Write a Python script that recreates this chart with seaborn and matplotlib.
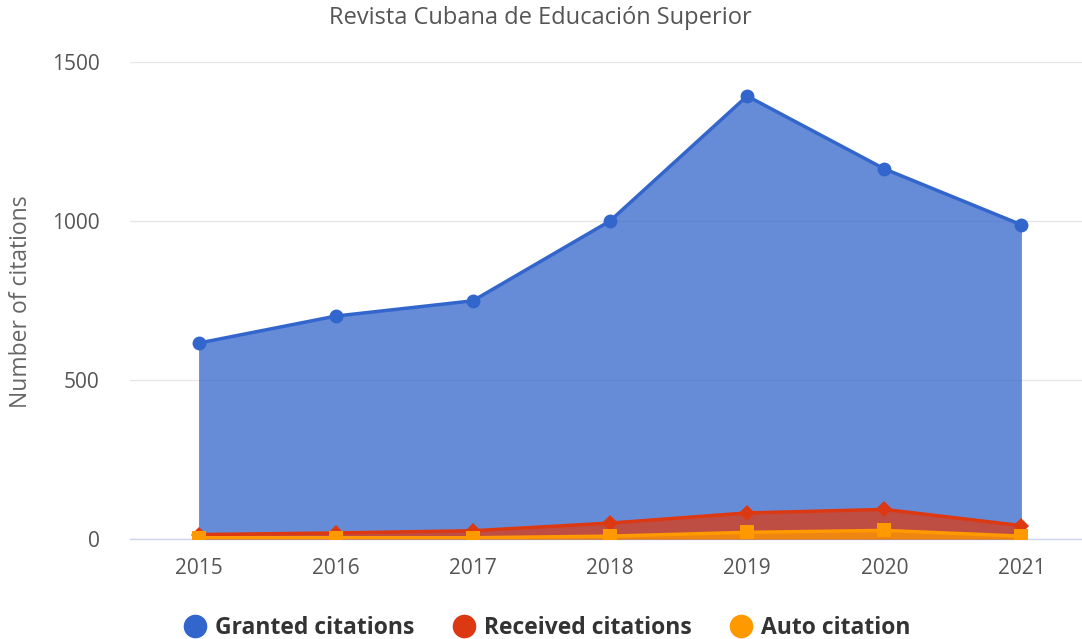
import matplotlib
matplotlib.use("Agg")
import matplotlib.pyplot as plt
import seaborn as sns
import pandas as pd
from matplotlib.lines import Line2D

years = ["2015", "2016", "2017", "2018", "2019", "2020", "2021"]
granted = [616, 701, 749, 1000, 1393, 1164, 988]
received = [14, 19, 26, 50, 82, 93, 42]
auto = [4, 4, 4, 9, 21, 27, 9]

series_names = ["Granted citations", "Received citations", "Auto citation"]
colors = ["#3366cc", "#dc3912", "#ff9900"]
markers = ["o", "D", "s"]

sns.set_theme(style="white")
plt.rcParams['font.family'] = ['Open Sans', 'DejaVu Sans']

fig = plt.figure(figsize=(10.82, 6.39), dpi=100)
ax = fig.add_axes([130/1082, 1-539/639, 960/1082, 477/639])

x = list(range(len(years)))
df = pd.DataFrame({"x": x * 3,
                   "value": granted + received + auto,
                   "series": [series_names[0]] * 7 + [series_names[1]] * 7 + [series_names[2]] * 7})

for name, vals, c, m in zip(series_names, [granted, received, auto], colors, markers):
    ax.fill_between(x, 0, vals, color=c, alpha=0.75, linewidth=0, zorder=2)
    sub = df[df.series == name]
    sns.lineplot(data=sub, x="x", y="value", ax=ax, color=c, linewidth=2.5,
                 marker=m, markersize=10 if m != "D" else 8, markeredgewidth=0,
                 legend=False, zorder=3)

ax.set_xlim(-0.5, 6.5)
ax.set_ylim(0, 1500)
ax.set_yticks([0, 500, 1000, 1500])
ax.set_xticks(x)
ax.set_xticklabels(years)
ax.set_xticks([i - 0.5 for i in range(8)], minor=True)
ax.tick_params(axis="x", which="minor", length=10, color="#ccd6eb", width=1, direction="out")
ax.tick_params(axis="x", which="major", length=0, pad=14, labelsize=15, labelcolor="#555555")
ax.tick_params(axis="y", length=0, pad=22, labelsize=15, labelcolor="#555555")
ax.grid(axis="y", color="#e6e6e6", linewidth=1)
ax.set_axisbelow(True)
for s in ["top", "right", "left"]:
    ax.spines[s].set_visible(False)
ax.spines["bottom"].set_color("#ccd6eb")
ax.spines["bottom"].set_linewidth(1)
ax.spines["bottom"].set_zorder(1)
ax.set_xlabel("")
ax.set_ylabel("")
fig.text(21/1082, 1-302/639, "Number of citations", rotation=90, ha="center", va="center",
         fontsize=16.5, color="#666666")
fig.text(540/1082, 1-18/639, "Revista Cubana de Educación Superior", ha="center", va="center",
         fontsize=17, color="#555555")

handles = [Line2D([0], [0], marker="o", color="w", markerfacecolor=c, markersize=18, linewidth=0)
           for c in colors]
leg = fig.legend(handles, series_names, loc="center", bbox_to_anchor=(547/1082, 1-628/639),
                 ncol=3, frameon=False, handlelength=1.0, handletextpad=0.38, columnspacing=1.64,
                 prop={"weight": "bold", "size": 16.5})
for t in leg.get_texts():
    t.set_color("#333333")

fig.savefig("out.png", dpi=100)
